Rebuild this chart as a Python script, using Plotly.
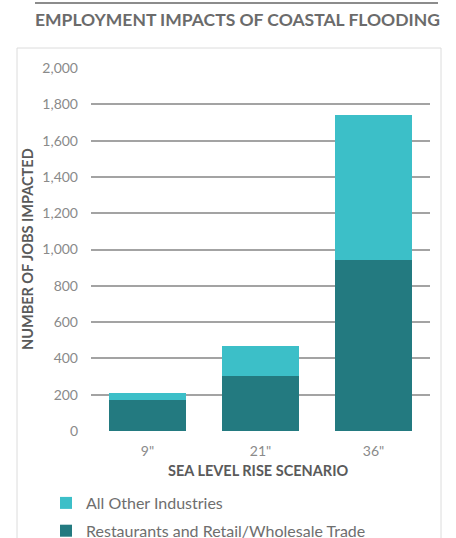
import plotly.graph_objects as go

categories = ['9"', '21"', '36"']
restaurants_retail = [170, 305, 940]
all_other = [40, 165, 800]
series_names = ["Restaurants and Retail/Wholesale Trade", "All Other Industries"]
y_ticks = list(range(0, 2001, 200))

DARK = "#237A80"
LIGHT = "#3CBFC8"
FONT = "Lato"

L, R, T, B = 91, 26, 68, 107
W, H = 456, 538
PW, PH = W - L - R, H - T - B


def px(x):
    return (x - L) / PW


def py(y):
    return (H - B - y) / PH


fig = go.Figure()
fig.add_trace(go.Bar(x=categories, y=restaurants_retail, name=series_names[0],
                     marker=dict(color=DARK, line=dict(width=0)), width=0.68,
                     legendgroup="a", legendrank=2))
fig.add_trace(go.Bar(x=categories, y=all_other, name=series_names[1],
                     marker=dict(color=LIGHT, line=dict(width=0)), width=0.68,
                     legendgroup="b", legendrank=1))

fig.update_layout(
    width=W, height=H, margin=dict(l=L, r=R, t=T, b=B, autoexpand=False),
    barmode="stack", plot_bgcolor="white", paper_bgcolor="white",
    font=dict(family=FONT, color="#888888"),
    xaxis=dict(showgrid=False, showline=False, zeroline=False,
               tickfont=dict(size=14, color="#8a8a8a"), ticklabelstandoff=10),
    yaxis=dict(range=[0, 2000], tickvals=y_ticks, tickformat=",",
               showgrid=True, gridcolor="#a3a3a3", gridwidth=1.5,
               zeroline=False, showline=False,
               tickfont=dict(size=14, color="#8a8a8a"), ticklabelstandoff=12),
    legend=dict(x=px(46), y=py(486), xanchor="left", yanchor="top",
                traceorder="grouped", tracegroupgap=4,
                font=dict(size=16, color="#6e6e6e"), bgcolor="rgba(0,0,0,0)"),
    showlegend=True,
)

fig.add_annotation(text="<b>EMPLOYMENT IMPACTS OF COASTAL FLOODING</b>",
                   xref="paper", yref="paper", x=px(237), y=py(19),
                   xanchor="center", yanchor="middle",
                   showarrow=False, font=dict(size=17.5, color="#6b6b6b", family=FONT))
fig.add_annotation(text="<b>NUMBER OF JOBS IMPACTED</b>", textangle=-90,
                   xref="paper", yref="paper", x=px(27), y=py(249),
                   xanchor="center", yanchor="middle",
                   showarrow=False, font=dict(size=14.5, color="#5a5a5a", family=FONT))
fig.add_annotation(text="<b>SEA LEVEL RISE SCENARIO</b>",
                   xref="paper", yref="paper", x=px(258), y=py(470),
                   xanchor="center", yanchor="middle",
                   showarrow=False, font=dict(size=14.5, color="#5a5a5a", family=FONT))

# decorative rule above title
fig.add_shape(type="line", xref="paper", yref="paper", x0=px(35), x1=px(438),
              y0=py(3), y1=py(3), line=dict(color="#8c8c8c", width=2))
# chart frame
frame = dict(xref="paper", yref="paper", line=dict(color="#dcdcdc", width=1))
fig.add_shape(type="line", x0=px(17), x1=px(441), y0=py(48), y1=py(48), **frame)
fig.add_shape(type="line", x0=px(17), x1=px(17), y0=py(48), y1=py(540), **frame)
fig.add_shape(type="line", x0=px(441), x1=px(441), y0=py(48), y1=py(540), **frame)

fig.write_html("out.html")
